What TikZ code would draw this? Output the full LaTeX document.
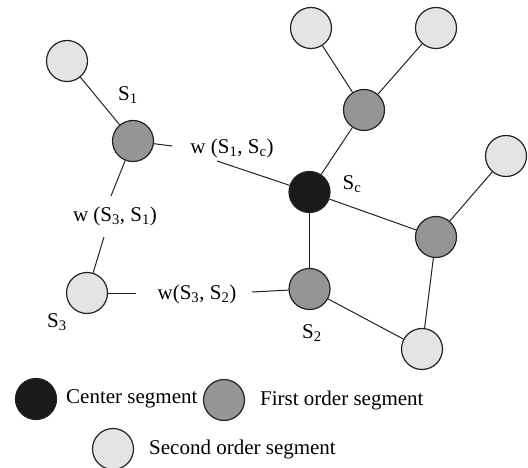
\documentclass[tikz,border=0pt]{standalone}
\usepackage{fontspec}
\setmainfont{Liberation Serif}
\definecolor{segblack}{HTML}{1A1A1A}
\definecolor{seggray}{HTML}{959595}
\definecolor{seglight}{HTML}{E3E4E6}
\definecolor{edgecol}{HTML}{222222}
\begin{document}
\begin{tikzpicture}[x=1pt,y=-1pt,
  seg/.style={circle,draw=edgecol,line width=1.2pt,minimum size=41pt,inner sep=0pt},
  center/.style={seg,fill=segblack},
  first/.style={seg,fill=seggray},
  second/.style={seg,fill=seglight},
  lab/.style={inner sep=0pt,font=\fontsize{21}{25}\selectfont},
  edge/.style={draw=edgecol,line width=1pt}]
\useasboundingbox (0,0) rectangle (528,468);
% nodes
\node[second] (tl) at (67,61) {};
\node[first] (S1) at (133,141) {};
\node[center] (Sc) at (309.5,192) {};
\node[first] (ur) at (364,110) {};
\node[second] (t1) at (311,28) {};
\node[second] (t2) at (436,28) {};
\node[second] (rr) at (506,156) {};
\node[first] (gr) at (436,237) {};
\node[first] (S2) at (309.5,289) {};
\node[second] (br) at (422,349) {};
\node[second] (S3) at (87,293) {};
% labels
\node[lab] (lS1) at (128,95) {S\textsubscript{1}};
\node[lab] (lSc) at (352,184) {S\textsubscript{c}};
\node[lab] (lS2) at (312,333) {S\textsubscript{2}};
\node[lab] (lS3) at (57,322) {S\textsubscript{3}};
\node[lab] (w1c) at (232,148) {w (S\textsubscript{1}, S\textsubscript{c})};
\node[lab] (w31) at (115,216) {w (S\textsubscript{3}, S\textsubscript{1})};
\node[lab] (w32) at (197,294) {w(S\textsubscript{3}, S\textsubscript{2})};
% free ends
\coordinate (a1) at (172,146);
\coordinate (a2) at (217,161);
\coordinate (b1) at (111,196);
\coordinate (b2) at (104,237);
\coordinate (c1) at (136,293);
\coordinate (c2) at (252,292);
% edges
\draw[edge] (tl) -- (S1);
\draw[edge] (S1) -- (a1);
\draw[edge] (a2) -- (Sc);
\draw[edge] (S1) -- (b1);
\draw[edge] (b2) -- (S3);
\draw[edge] (S3) -- (c1);
\draw[edge] (c2) -- (S2);
\draw[edge] (Sc) -- (ur);
\draw[edge] (ur) -- (t1);
\draw[edge] (ur) -- (t2);
\draw[edge] (Sc) -- (S2);
\draw[edge] (Sc) -- (gr);
\draw[edge] (gr) -- (rr);
\draw[edge] (gr) -- (br);
\draw[edge] (S2) -- (br);
% legend
\node[center] (kc) at (36,399) {};
\node[lab,anchor=west] (kct) at (66,399) {Center segment};
\node[first] (kf) at (224,400) {};
\node[lab,anchor=west] (kft) at (260,400) {First order segment};
\node[second] (ks) at (113,449) {};
\node[lab,anchor=west] (kst) at (149,449) {Second order segment};
\end{tikzpicture}
\end{document}
